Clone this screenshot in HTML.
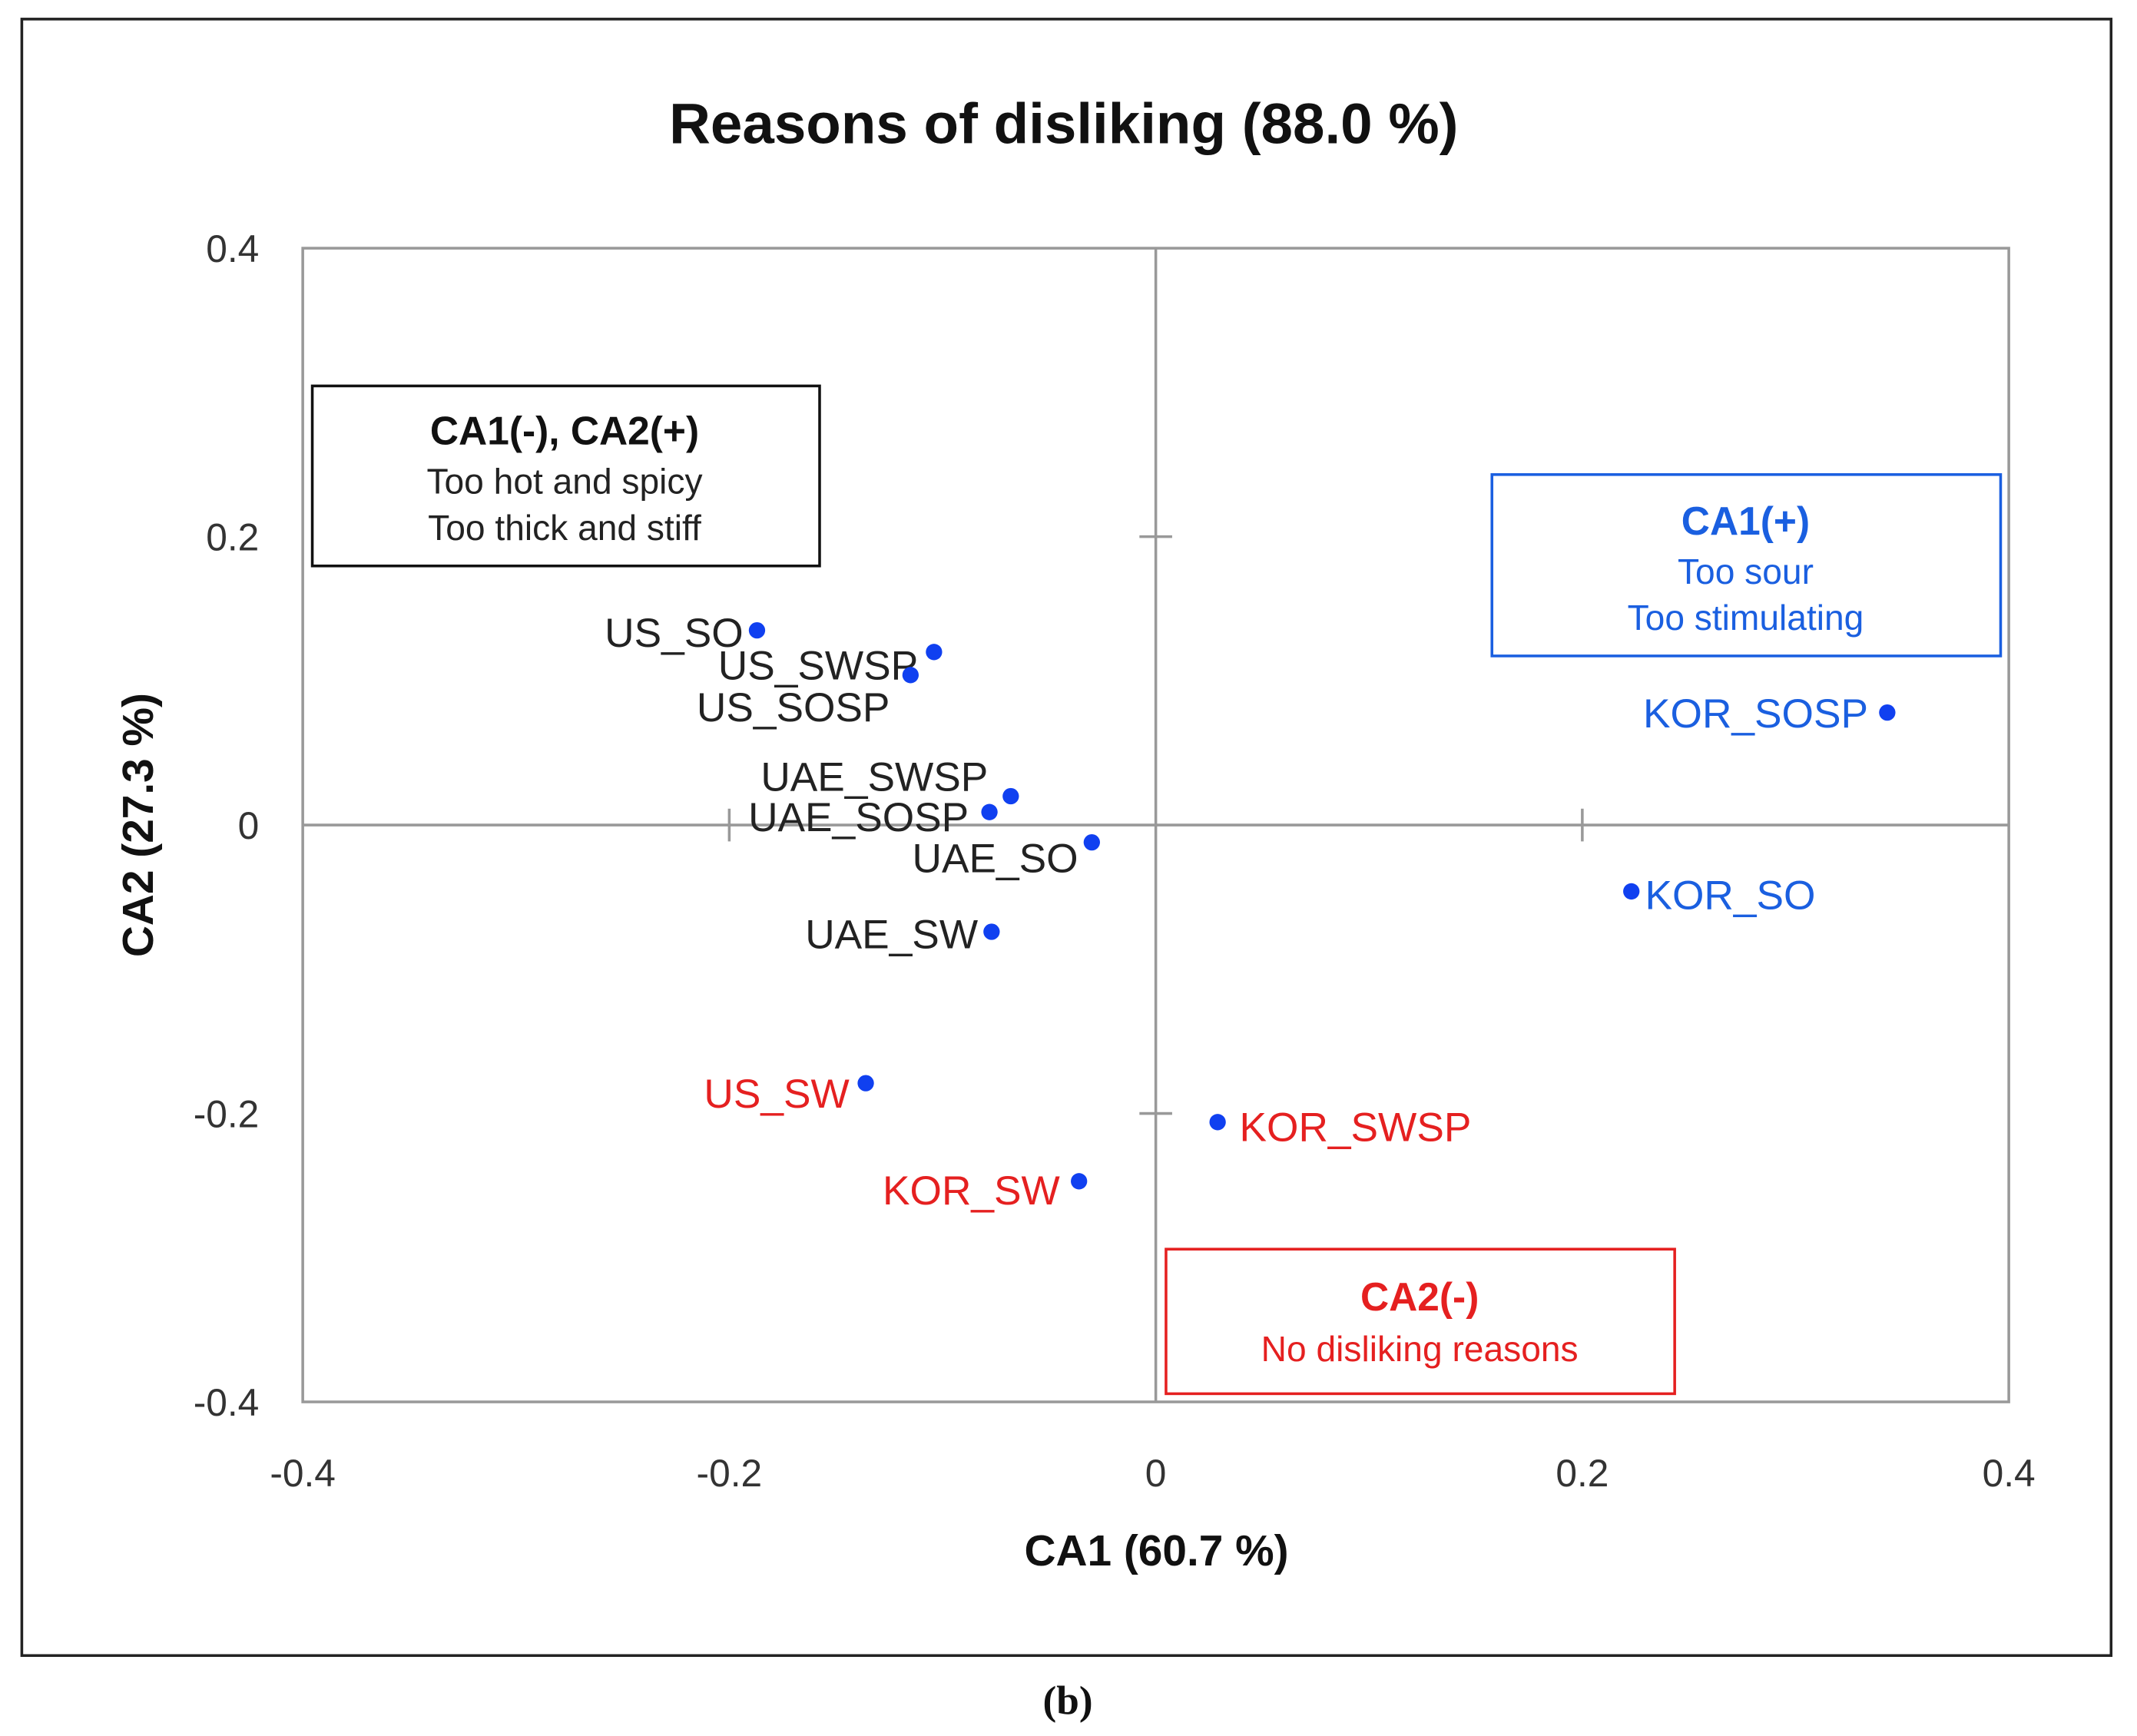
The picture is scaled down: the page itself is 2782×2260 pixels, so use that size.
<!DOCTYPE html>
<html><head><meta charset="utf-8"><style>
html,body{margin:0;padding:0;background:#fff}
svg{display:block}
text{font-family:"Liberation Sans",sans-serif}
</style></head><body>
<svg id="chart" width="2782" height="2260" viewBox="0 0 1567 1273" preserveAspectRatio="none" xmlns="http://www.w3.org/2000/svg">
<rect x="16" y="14" width="1532" height="1200" fill="#fff" stroke="#222" stroke-width="2"/>
<text x="780" y="105" font-size="42" font-weight="bold" text-anchor="middle" fill="#111">Reasons of disliking (88.0 %)</text>
<rect x="222" y="182" width="1251" height="846" fill="none" stroke="#999" stroke-width="2"/>
<g id="axes"></g>
<g id="points"></g>
<text x="848" y="1148" font-size="32" font-weight="bold" text-anchor="middle" fill="#111">CA1 (60.7 %)</text>
<text transform="translate(112,605) rotate(-90)" font-size="32" font-weight="bold" text-anchor="middle" fill="#111">CA2 (27.3 %)</text>
<g>
<rect x="229" y="283" width="372" height="132" fill="#fff" stroke="#111" stroke-width="2"/>
<text x="414" y="326" font-size="29" font-weight="bold" text-anchor="middle" fill="#111">CA1(-), CA2(+)</text>
<text x="414" y="362" font-size="26" text-anchor="middle" fill="#222">Too hot and spicy</text>
<text x="414" y="396" font-size="26" text-anchor="middle" fill="#222">Too thick and stiff</text>
</g>
<g>
<rect x="1094" y="348" width="373" height="133" fill="#fff" stroke="#1a5fe0" stroke-width="2"/>
<text x="1280" y="392" font-size="29" font-weight="bold" text-anchor="middle" fill="#1a5fe0">CA1(+)</text>
<text x="1280" y="428" font-size="26" text-anchor="middle" fill="#1a5fe0">Too sour</text>
<text x="1280" y="462" font-size="26" text-anchor="middle" fill="#1a5fe0">Too stimulating</text>
</g>
<g>
<rect x="855" y="916" width="373" height="106" fill="#fff" stroke="#e52020" stroke-width="2"/>
<text x="1041" y="961" font-size="29" font-weight="bold" text-anchor="middle" fill="#e52020">CA2(-)</text>
<text x="1041" y="998" font-size="26" text-anchor="middle" fill="#e52020">No disliking reasons</text>
</g>
<text x="783" y="1257" font-size="30" font-weight="bold" text-anchor="middle" fill="#111" style="font-family:'Liberation Serif',serif">(b)</text>
</svg>
<script>
const xTicks=[-0.4,-0.2,0,0.2,0.4];
const yTicks=[0.4,0.2,0,-0.2,-0.4];
const names=["US_SO","US_SWSP","US_SOSP","UAE_SWSP","UAE_SOSP","UAE_SO","UAE_SW","US_SW","KOR_SW","KOR_SWSP","KOR_SO","KOR_SOSP"];
const ca1=[-0.187,-0.104,-0.115,-0.068,-0.078,-0.030,-0.077,-0.136,-0.036,0.029,0.223,0.343];
const ca2=[0.135,0.120,0.104,0.020,0.009,-0.012,-0.074,-0.179,-0.247,-0.206,-0.046,0.078];
const groups=["k","k","k","k","k","k","k","r","r","r","b","b"];
const NS="http://www.w3.org/2000/svg";
const X=v=>847.5+v*1563.75, Y=v=>605-v*1057.5;
const col={k:"#222",r:"#e52020",b:"#1a5fe0"};
const lab={"US_SO":[-10,12,"end"],"US_SWSP":[-85,20,"middle"],"US_SOSP":[-86,34,"middle"],"UAE_SWSP":[-100,-4,"middle"],"UAE_SOSP":[-96,14,"middle"],"UAE_SO":[-10,22,"end"],"UAE_SW":[-10,12,"end"],"US_SW":[-12,18,"end"],"KOR_SW":[-14,17,"end"],"KOR_SWSP":[16,14,"start"],"KOR_SO":[10,13,"start"],"KOR_SOSP":[-14,11,"end"]};
function mk(t,a,p){const e=document.createElementNS(NS,t);for(const k in a)e.setAttribute(k,a[k]);p.appendChild(e);return e;}
const ax=document.getElementById("axes");
let l=mk("line",{x1:X(0),x2:X(0),y1:Y(0.4),y2:Y(-0.4),stroke:"#999","stroke-width":2},ax);


l=mk("line",{x1:X(-0.4),x2:X(0.4),y1:Y(0),y2:Y(0),stroke:"#999","stroke-width":2},ax);


xTicks.forEach(v=>{
 if(v!==0&&Math.abs(v)<0.4){const t=mk("line",{x1:X(v),x2:X(v),y1:Y(0)-12,y2:Y(0)+12,stroke:"#999","stroke-width":2},ax);
 
 }
 const tx=mk("text",{x:X(v),y:1090,"font-size":28,"text-anchor":"middle",fill:"#333"},ax);tx.textContent=String(v);
 
 
});
yTicks.forEach(v=>{
 if(v!==0&&Math.abs(v)<0.4){const t=mk("line",{x1:X(0)-12,x2:X(0)+12,y1:Y(v),y2:Y(v),stroke:"#999","stroke-width":2},ax);
 
 }
 const tx=mk("text",{x:190,y:Y(v)+10,"font-size":28,"text-anchor":"end",fill:"#333"},ax);tx.textContent=String(v);
 
 
});
const pg=document.getElementById("points");
names.forEach((n,i)=>{
 const c=mk("circle",{cx:X(ca1[i]),cy:Y(ca2[i]),r:6,fill:"#1040f0"},pg);
 
 
 const o=lab[n];
 const t=mk("text",{x:X(ca1[i])+o[0],y:Y(ca2[i])+o[1],"font-size":30,"text-anchor":o[2],fill:col[groups[i]]},pg);
 t.textContent=n;
 
 
});
</script>
</body></html>
